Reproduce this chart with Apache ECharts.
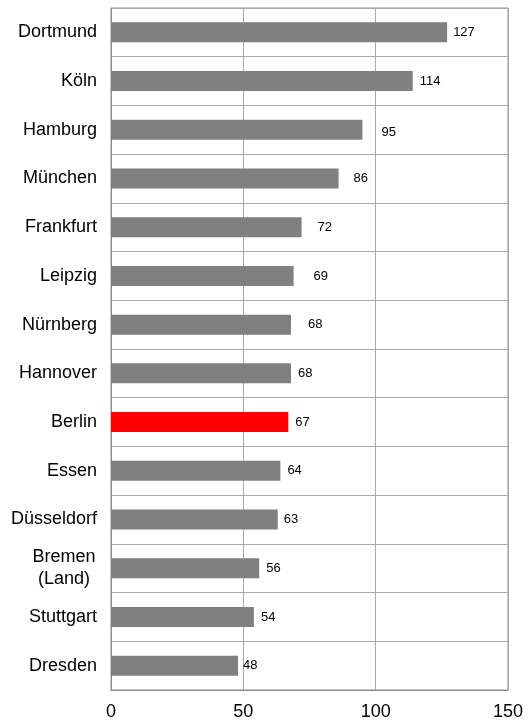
<!DOCTYPE html>
<html>
<head>
<meta charset="utf-8">
<script src="https://cdn.jsdelivr.net/npm/echarts@6/dist/echarts.min.js"></script>
<style>
html,body{margin:0;padding:0;background:#fff;}
#c{width:532px;height:722px;}
</style>
</head>
<body>
<div id="c"></div>
<script>
const cities = ['Dortmund','Köln','Hamburg','München','Frankfurt','Leipzig','Nürnberg','Hannover','Berlin','Essen','Düsseldorf','Bremen\n(Land)','Stuttgart','Dresden'];
const values = [127,114,95,86,72,69,68,68,67,64,63,56,54,48];
const highlight = 'Berlin';
const xTicks = [0,50,100,150];

// styling: per-row label gaps (as in the reference)
const labelGap = [6,7,19,15,16,20,17,7,7,7,6,7,7,5];
const labelDrop = [0,0,3,0,0,0,0,0,0,0,0,0,0,0];

const chart = echarts.init(document.getElementById('c'));
const font = 'Liberation Sans, Arial, sans-serif';
const seriesData = values.map((v,i)=>({
  value: v,
  itemStyle: {color: cities[i]===highlight ? '#ff0000' : '#808080'},
  label: {distance: labelGap[i], offset:[0,labelDrop[i]]}
}));
chart.setOption({
  animation:false,
  grid:{left:111, right:24, top:8, bottom:32, show:true, borderColor:'#8c8c8c', borderWidth:1},
  xAxis:{
    type:'value', min:xTicks[0], max:xTicks[xTicks.length-1], interval:50,
    axisLine:{show:true, lineStyle:{color:'#8c8c8c'}},
    axisTick:{show:false},
    axisLabel:{color:'#000', fontSize:18, fontWeight:'normal', fontFamily:font, margin:13},
    splitLine:{show:true, lineStyle:{color:'#a8a8a8', width:1}}
  },
  yAxis:{
    type:'category', inverse:true, data:cities,
    axisLine:{show:true, lineStyle:{color:'#8c8c8c'}},
    axisTick:{show:false},
    splitLine:{show:true, lineStyle:{color:'#a8a8a8', width:1}},
    axisLabel:{
      color:'#000', fontSize:18, fontWeight:'normal', fontFamily:font, margin:14, lineHeight:22,
      formatter: function(v){
        if (v.indexOf('\n')>=0) return v.split('\n').map(s=>'{c|'+s+'}').join('\n');
        return v;
      },
      rich:{c:{width:66, align:'center', fontSize:18, fontWeight:'normal', fontFamily:font, color:'#000', lineHeight:22}}
    }
  },
  series:[{
    type:'bar', data:seriesData, barWidth:20,
    label:{show:true, position:'right', color:'#000', fontSize:13, fontFamily:font}
  }]
});
</script>
</body>
</html>
